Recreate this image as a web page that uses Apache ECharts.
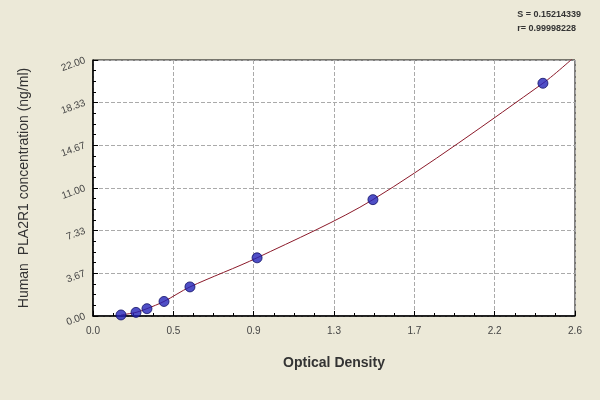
<!DOCTYPE html><html><head><meta charset="utf-8"><script src="https://cdn.jsdelivr.net/npm/echarts@6/dist/echarts.min.js"></script></head><body style="margin:0;background:#ece9d8"><div id="c" style="width:600px;height:400px"></div><script>
const odValues=[0.151,0.232,0.291,0.383,0.523,0.885,1.510,2.427];
const concValues=[0.09,0.31,0.63,1.25,2.5,5,10,20];
const curveX=[0.151,0.232,0.291,0.383,0.523,0.885,1.510,2.427,2.62];
const curveY=[0.09,0.31,0.63,1.25,2.5,5,10,20,22.6];
const xTickLabels=['0.0','0.5','0.9','1.3','1.7','2.2','2.6'];
const yTickLabels=['0.00','3.67','7.33','11.00','14.67','18.33','22.00'];
const statLines=['S = 0.15214339','r= 0.99998228'];
const c=echarts.init(document.getElementById('c'));
c.setOption({backgroundColor:'#ece9d8',animation:false,
title:{text:statLines.join('\n'),right:14,top:3,textStyle:{fontSize:9,fontWeight:'bold',color:'#333',lineHeight:14,fontFamily:'Arial'}},
grid:{left:93,right:25,top:60,bottom:84,backgroundColor:'#fff',show:true,borderColor:'#000',borderWidth:1},
xAxis:{type:'value',min:0,max:2.6,interval:2.6/6,name:'Optical Density',nameLocation:'middle',nameGap:40,
nameTextStyle:{fontSize:14,fontWeight:'bold',color:'#333',fontFamily:'Arial'},
axisLine:{lineStyle:{color:'#000',width:1.5}},axisTick:{inside:true,lineStyle:{color:'#000'}},minorTick:{show:true,splitNumber:4,length:3,lineStyle:{color:'#000'}},
axisLabel:{formatter:(v,i)=>xTickLabels[i],fontSize:10,color:'#444',margin:10},
splitLine:{lineStyle:{type:'dashed',color:'#aaa'}}},
yAxis:{type:'value',min:0,max:22,interval:22/6,name:'Human  PLA2R1 concentration (ng/ml)',nameLocation:'middle',nameGap:62,
nameTextStyle:{fontSize:14,color:'#333',fontFamily:'Arial'},
axisLine:{show:true,lineStyle:{color:'#000',width:1.5}},axisTick:{inside:true,lineStyle:{color:'#000'}},minorTick:{show:true,splitNumber:4,length:3,lineStyle:{color:'#000'}},
axisLabel:{formatter:(v,i)=>yTickLabels[i],rotate:20,fontSize:10,color:'#444'},
splitLine:{lineStyle:{type:'dashed',color:'#aaa'}}},
series:[{type:'line',data:curveX.map((x,i)=>[x,curveY[i]]),smooth:0.3,showSymbol:false,lineStyle:{color:'#8b1a2a',width:1},z:2},
{type:'scatter',data:odValues.map((x,i)=>[x,concValues[i]]),symbolSize:10,itemStyle:{color:'#2323b8',borderColor:'#111166',borderWidth:1},z:3}]});
</script></body></html>
